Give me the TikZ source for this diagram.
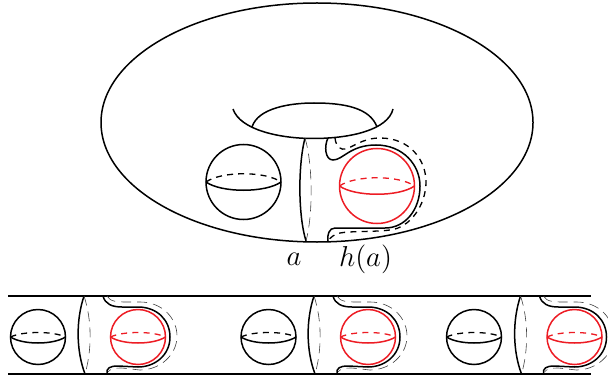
\documentclass[tikz,border=0pt]{standalone}
\usepackage{xcolor}
\usepackage{amsmath,amssymb}
\definecolor{spherered}{HTML}{ED1C24}
\begin{document}
\begin{tikzpicture}[x=0.5pt, y=-0.5pt,
  curve/.style={line width=0.75pt, black},
  hidden/.style={line width=0.65pt, black, dash pattern=on 3pt off 2.6pt},
  faint/.style={line width=0.3pt, black!75, dash pattern=on 5pt off 3pt},
  lbl/.style={font=\fontsize{14.8}{17}\selectfont},
  sphere/.pic={
    \draw[#1, line width=0.75pt] (0,0) circle (37.5);
    \draw[#1, line width=0.75pt] (-37.5,0) .. controls (-22,11) and (22,11) .. (37.5,0);
    \draw[#1, line width=0.65pt, dash pattern=on 3pt off 2.6pt] (-37.5,0) .. controls (-22,-11) and (22,-11) .. (37.5,0);
  },
  smallsphere/.pic={
    \draw[#1, line width=0.75pt] (0,0) circle (27.5);
    \draw[#1, line width=0.75pt] (-27.5,0) .. controls (-15,8) and (15,8) .. (27.5,0);
    \draw[#1, line width=0.65pt, dash pattern=on 3pt off 2.6pt] (-27.5,0) .. controls (-15,-6) and (15,-6) .. (27.5,0);
  }
]
  \useasboundingbox (0,0) rectangle (608,379);

  % Torus
  \draw[curve] (317,122.5) ellipse (216 and 119.5);
  \draw[curve] (233,109) .. controls (240,130) and (280,138.5) .. (313,138.5) .. controls (350,138.5) and (388,130) .. (393,109);
  \draw[curve] (252,127) .. controls (258,108) and (290,103) .. (314,103) .. controls (345,103) and (370,108) .. (377,127);

  \pic at (243.5,182) {sphere=black};
  \pic at (377,186) {sphere=spherered};

  \draw[curve] (305,138) .. controls (298,165) and (298,215) .. (306,241);
  \draw[faint] (305,138) .. controls (313,165) and (313,215) .. (306,241);

  \draw[curve] (328,138) .. controls (324,146) and (325,160) .. (333,160)
    .. controls (343,160) and (350,145) .. (376,145)
    .. controls (403,145) and (420,165) .. (420,186)
    .. controls (420,210) and (405,228) .. (385,228)
    .. controls (365,228) and (345,228) .. (335,228)
    .. controls (329,228) and (327,235) .. (328,241);
  \draw[hidden] (335,138) .. controls (336,148) and (342,150) .. (345,149)
    .. controls (352,148) and (362,138) .. (380,138)
    .. controls (410,138) and (426,160) .. (426,182)
    .. controls (426,205) and (410,228) .. (390,230)
    .. controls (375,232) and (350,231) .. (340,233)
    .. controls (334,234) and (330,238) .. (328,241);

  \node[lbl] (a) at (294,259) {$a$};
  \node[lbl] (ha) at (365.5,259) {$h(a)$};

  % Strip
  \draw[curve] (8,296) -- (591,296);
  \draw[curve] (8,374) -- (591,374);

  \foreach \sx/\bx in {0/38, 230/268.5, 436.5/474}{
    \pic at (\bx,337) {smallsphere=black};
    \pic at (\sx+138,337) {smallsphere=spherered};
    \begin{scope}[xshift=\sx*0.5pt]
      \draw[curve] (84,296) .. controls (76,320) and (76,350) .. (85,374);
      \draw[faint] (84,296) .. controls (92,320) and (92,350) .. (85,374);
      \draw[curve] (103,296) .. controls (105,304) and (112,307) .. (122,307)
        -- (138,307) .. controls (157,307) and (170,320) .. (170,337)
        .. controls (170,355) and (155,367) .. (138,367)
        -- (118,366) .. controls (110,366) and (106,368) .. (107,374);
      \draw[faint] (107,296) .. controls (110,302) and (118,302) .. (128,302)
        -- (140,302) .. controls (162,302) and (177,318) .. (177,336)
        .. controls (177,355) and (160,370) .. (140,370)
        -- (122,368) .. controls (114,368) and (110,369) .. (108,372);
    \end{scope}
  }
\end{tikzpicture}
\end{document}
